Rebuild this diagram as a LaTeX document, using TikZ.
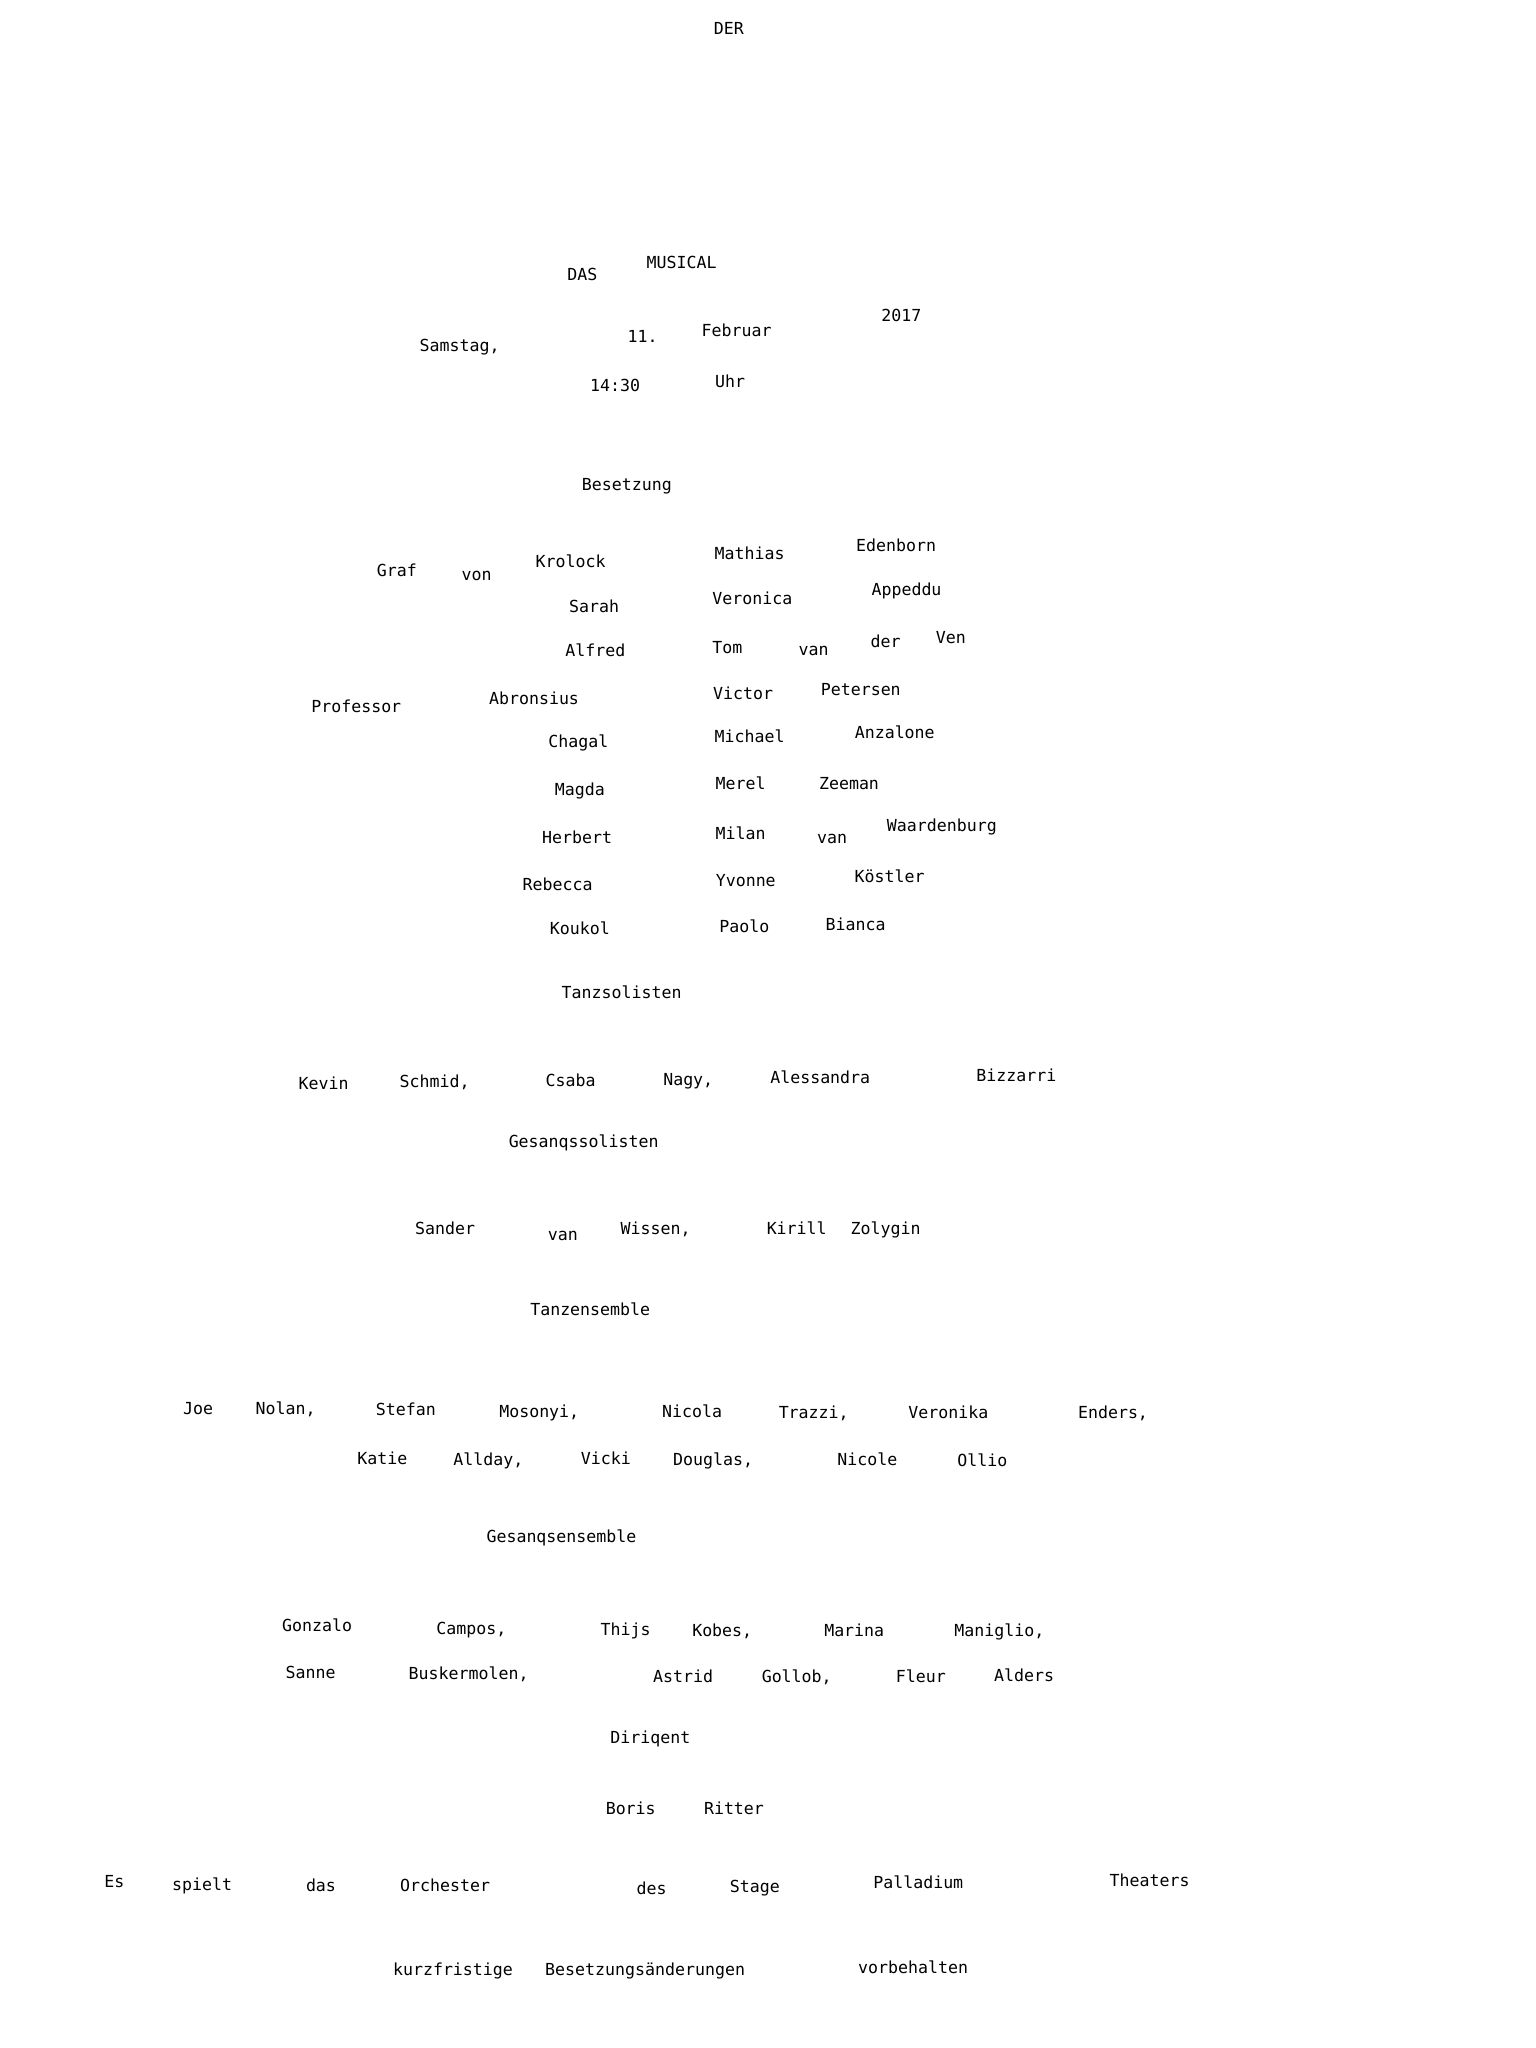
\documentclass[tikz,border=0pt]{standalone}
\usepackage{fontspec}
\newfontfamily\wordfont{DejaVu Sans Mono}
\begin{document}
\begin{tikzpicture}[x=0.65362pt,y=-0.65362pt,
  word/.style={inner sep=0pt, anchor=base, font=\wordfont\fontsize{8.3pt}{10pt}\selectfont, text=black}]
\fill[white] (0,0) rectangle (1175,1567);
\useasboundingbox (0,0) rectangle (1175,1567);
\foreach \x/\y/\t [count=\i] in {
557/21/DER, 445/209/DAS, 521/200/MUSICAL, 689/241/2017,
351/264/{Samstag,}, 491/257/11., 563/252/Februar,
470/294/14:30, 558/291/Uhr,
479/370/Besetzung,
303/436/Graf, 364/439/von, 436/429/Krolock, 573/423/Mathias, 685/417/Edenborn,
454/463/Sarah, 575/457/Veronica, 693/450/Appeddu,
455/497/Alfred, 556/495/Tom, 622/496/van, 677/490/der, 727/487/Ven,
272/540/Professor, 408/534/Abronsius, 568/530/Victor, 658/527/Petersen,
442/567/Chagal, 573/563/Michael, 684/560/Anzalone,
443/603/Magda, 566/599/Merel, 649/599/Zeeman,
441/640/Herbert, 566/637/Milan, 636/640/van, 720/631/Waardenburg,
426/676/Rebecca, 570/673/Yvonne, 680/670/Köstler,
443/710/Koukol, 569/708/Paolo, 654/707/Bianca,
475/759/Tanzsolisten,
247/828/Kevin, 332/827/{Schmid,}, 436/826/Csaba, 526/825/{Nagy,}, 627/824/Alessandra, 777/822/Bizzarri,
446/873/Gesanqssolisten,
340/939/Sander, 430/944/van, 501/939/{Wissen,}, 609/939/Kirill, 677/939/Zolygin,
451/1001/Tanzensemble,
151/1077/Joe, 218/1077/{Nolan,}, 310/1078/Stefan, 412/1079/{Mosonyi,}, 529/1079/Nicola, 622/1080/{Trazzi,}, 725/1080/Veronika, 851/1080/{Enders,},
292/1115/Katie, 373/1116/{Allday,}, 463/1115/Vicki, 545/1116/{Douglas,}, 663/1116/Nicole, 751/1117/Ollio,
429/1175/Gesanqsensemble,
242/1243/Gonzalo, 360/1245/{Campos,}, 478/1246/Thijs, 552/1247/{Kobes,}, 653/1247/Marina, 764/1247/{Maniglio,},
237/1279/Sanne, 358/1280/{Buskermolen,}, 522/1282/Astrid, 609/1282/{Gollob,}, 704/1282/Fleur, 783/1281/Alders,
497/1329/Diriqent,
482/1383/Boris, 561/1383/Ritter,
87/1439/Es, 154/1441/spielt, 245/1442/das, 340/1442/Orchester, 498/1444/des, 577/1443/Stage, 702/1440/Palladium, 879/1438/Theaters,
346/1506/kurzfristige, 493/1506/Besetzungsänderungen, 698/1505/vorbehalten}
  \node[word] (w\i) at (\x+0.6,\y+5.3) {\t};
\end{tikzpicture}
\end{document}
